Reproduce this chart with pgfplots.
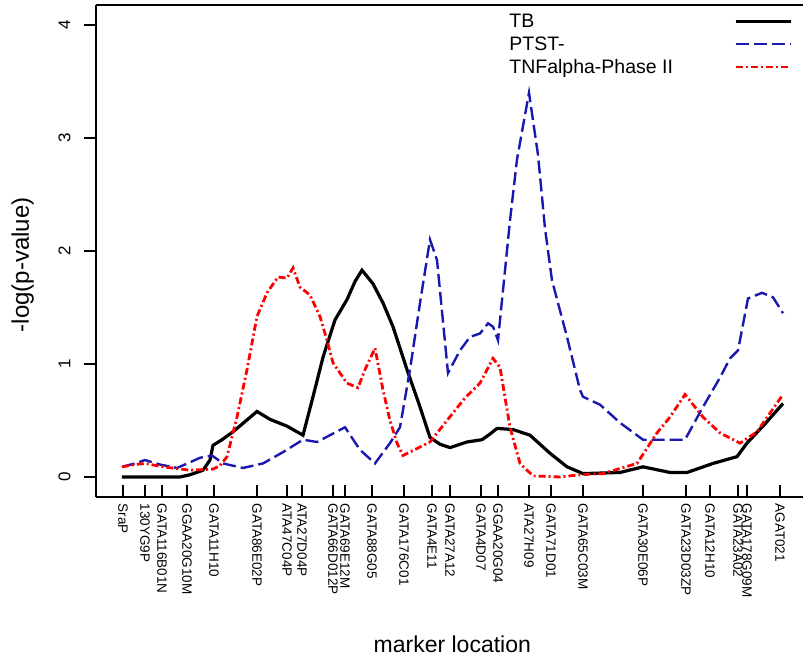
\documentclass[border=0pt]{standalone}
\usepackage{fontspec}
\setmainfont{Liberation Sans}
\usepackage{pgfplots}
\pgfplotsset{compat=1.18}
\usetikzlibrary{calc}

\definecolor{ptblue}{RGB}{25,25,175}
\definecolor{tnfred}{RGB}{255,0,0}

% x = position along the map (arbitrary units), y = -log(p)
\pgfplotstableread{
x y
26 0.00
44 0.00
64 0.00
84 0.00
94 0.02
107 0.06
114 0.15
117 0.28
126 0.33
137 0.40
149 0.49
161 0.58
174 0.51
191 0.45
207 0.37
217 0.71
227 1.06
239 1.39
251 1.57
259 1.73
266 1.83
277 1.71
287 1.54
297 1.33
311 0.95
324 0.62
334 0.35
344 0.29
354 0.26
371 0.31
386 0.33
394 0.38
401 0.43
417 0.42
434 0.37
444 0.29
454 0.21
471 0.09
487 0.03
524 0.04
547 0.09
574 0.04
591 0.04
604 0.08
617 0.12
641 0.18
651 0.30
669 0.47
687 0.65
}\tbdata

\pgfplotstableread{
x y
26 0.09
39 0.12
49 0.15
64 0.11
81 0.08
94 0.13
104 0.17
116 0.19
127 0.12
147 0.08
167 0.12
187 0.22
207 0.33
221 0.31
234 0.37
249 0.44
264 0.24
279 0.12
294 0.30
304 0.44
314 0.95
324 1.54
334 2.10
341 1.92
352 0.92
364 1.12
374 1.24
384 1.27
392 1.36
397 1.33
402 1.21
414 2.27
421 2.81
433 3.40
442 2.85
449 2.20
456 1.74
471 1.24
484 0.77
487 0.71
504 0.64
524 0.48
547 0.33
589 0.33
607 0.62
624 0.88
634 1.05
642 1.12
652 1.58
666 1.63
677 1.59
687 1.45
}\ptstdata

\pgfplotstableread{
x y
26 0.09
39 0.11
49 0.12
67 0.09
94 0.06
117 0.07
124 0.10
131 0.18
141 0.53
151 0.95
161 1.42
171 1.63
182 1.77
191 1.76
197 1.85
204 1.68
214 1.61
224 1.42
231 1.21
237 1.01
251 0.83
262 0.79
269 0.95
279 1.14
287 0.77
294 0.50
301 0.30
307 0.19
334 0.31
351 0.50
369 0.70
384 0.83
397 1.05
404 0.97
414 0.44
424 0.12
437 0.01
464 0.00
484 0.02
507 0.03
541 0.12
561 0.39
574 0.53
589 0.73
607 0.53
624 0.39
644 0.30
661 0.40
687 0.73
}\tnfdata

\begin{document}
\begin{tikzpicture}
\begin{axis}[
    name=ax,
    scale only axis,
    width=707pt, height=492pt,
    xmin=0, xmax=707,
    ymin=-0.177, ymax=4.177,
    axis x line*=bottom,
    axis y line*=left,
    axis line style={line width=1.6pt},
    xtick align=inside,
    ytick align=outside,
    major tick length=12pt,
    tick style={line width=1.3pt, black},
    ytick={0,1,2,3,4},
    /pgf/number format/assume math mode=true,
    every tick label/.append style={font=\fontsize{13.5}{15}\selectfont},
    y tick label style={xshift=-10pt, rotate=90, anchor=south, font=\fontsize{17}{19}\selectfont},
    xtick={27,49,66,91,118,161,191,206,237,249,276,308,336,354,385,402,433,455,487,547,590,614,642,651,684},
    xticklabels={SraP,130YG9P,GATA116B01N,GGAA20G10M,GATA11H10,GATA86E02P,ATA47C04P,ATA27D04P,GATA66D012P,GATA69E12M,GATA88G05,GATA176C01,GATA4E11,GATA27A12,GATA4D07,GGAA20G04,ATA27H09,GATA71D01,GATA65C03M,GATA30E06P,GATA23D03ZP,GATA12H10,GATA23A02,GATA178G09M,AGAT021},
    x tick label style={yshift=-3pt, rotate=-90, anchor=west},
    xlabel={marker location},
    xlabel style={at={(axis description cs:0.504,-0.317)}, anchor=base, font=\fontsize{23}{26}\selectfont},
    ylabel={-log(p-value)},
    ylabel style={at={(axis description cs:-0.083,0.472)}, anchor=south, font=\fontsize{24}{27}\selectfont},
    legend plot pos=right,
    legend cell align=left,
    legend image code/.code={\draw[#1] (0pt,0pt) -- (55pt,0pt);},
    legend style={at={(axis description cs:0.583,0.984)}, anchor=north west,
        draw=none, fill=none, font=\fontsize{19.5}{22}\selectfont,
        column sep=60pt, row sep=5.5pt, inner sep=0pt,
        nodes={inner sep=1pt}},
]
\addplot[black, line width=3.2pt] table[x=x, y=y] {\tbdata};
\addplot[ptblue, line width=2.4pt, dash pattern=on 13pt off 5pt] table[x=x, y=y] {\ptstdata};
\addplot[tnfred, line width=2.8pt, dash pattern=on 7pt off 3pt on 2pt off 3pt] table[x=x, y=y] {\tnfdata};
\legend{TB, PTST-, TNFalpha-Phase II}
\draw[line width=1.6pt] (rel axis cs:0,1) -- (rel axis cs:1,1);
\end{axis}
\pgfresetboundingbox
\path[use as bounding box] ([shift={(-96pt,-160pt)}]ax.south west) rectangle ([shift={(0pt,5pt)}]ax.north east);
\end{tikzpicture}
\end{document}
